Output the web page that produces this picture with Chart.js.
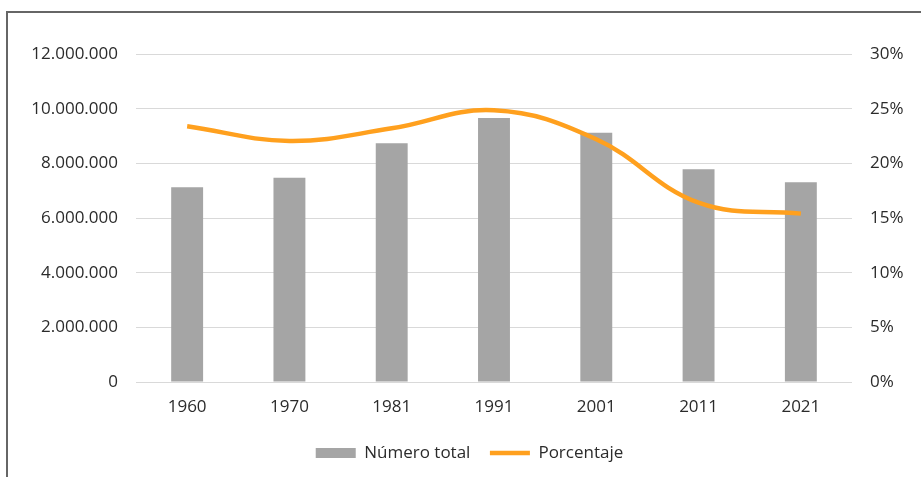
<!DOCTYPE html>
<html>
<head>
<meta charset="utf-8">
<script src="https://cdn.jsdelivr.net/npm/chart.js@4"></script>
<style>
  html, body { margin: 0; padding: 0; background: #ffffff; overflow: hidden; }
  #wrap { position: relative; width: 921px; height: 477px; }
  #frame { position: absolute; left: 6px; top: 11px; width: 2000px; height: 2000px;
           border-left: 2px solid #666666; border-top: 2px solid #666666; pointer-events: none; }
  canvas { position: absolute; left: 0; top: 0; }
</style>
</head>
<body>
<div id="wrap">
  <canvas id="c" width="921" height="477"></canvas>
  <div id="frame"></div>
</div>
<script>
const categories = ['1960', '1970', '1981', '1991', '2001', '2011', '2021'];
const totalLabel = 'Número total';
const totalValues = [7123000, 7474000, 8733000, 9659000, 9121000, 7782000, 7306000];
const pctLabel = 'Porcentaje';
const pctValues = [23.4, 22.05, 23.2, 24.85, 22.2, 16.4, 15.4];
const leftTicks = [0, 2000000, 4000000, 6000000, 8000000, 10000000, 12000000];
const rightTicks = [0, 5, 10, 15, 20, 25, 30];

const FONT = "'Open Sans', sans-serif";
const TXT = '#2b2b2b';
const LEGEND_SHIFT = 9;

function fmtThousands(v) {
  return String(Math.round(v)).replace(/\B(?=(\d{3})+(?!\d))/g, '.');
}

const legendShift = {
  id: 'legendShift',
  afterLayout(chart) {
    const lg = chart.legend;
    if (lg) { lg.left += LEGEND_SHIFT; lg.right += LEGEND_SHIFT; }
  }
};

new Chart(document.getElementById('c'), {
  data: {
    labels: categories,
    datasets: [
      {
        type: 'line',
        label: pctLabel,
        data: pctValues,
        yAxisID: 'yR',
        borderColor: 'rgb(255,160,30)',
        backgroundColor: 'rgb(255,160,30)',
        borderWidth: 4.5,
        pointRadius: 0,
        tension: 0.4,
        fill: false,
        order: 0,
        pointStyle: 'line'
      },
      {
        type: 'bar',
        label: totalLabel,
        data: totalValues,
        yAxisID: 'yL',
        backgroundColor: '#A5A5A5',
        borderWidth: 0,
        barPercentage: 0.312,
        categoryPercentage: 1,
        order: 1,
        pointStyle: 'rect'
      }
    ]
  },
  plugins: [legendShift],
  options: {
    responsive: false,
    animation: false,
    layout: { padding: { top: 54, bottom: 12, left: 0, right: 0 } },
    plugins: {
      tooltip: { enabled: false },
      legend: {
        position: 'bottom',
        maxHeight: 40,
        reverse: true,
        labels: {
          usePointStyle: true,
          pointStyleWidth: 40,
          boxHeight: 10,
          padding: 19.5,
          color: TXT,
          font: { family: FONT, size: 17 }
        }
      }
    },
    scales: {
      x: {
        offset: true,
        grid: { display: false, drawTicks: false },
        border: { display: false },
        ticks: { color: TXT, font: { family: FONT, size: 17 }, padding: 15, maxRotation: 0 },
        afterFit(s) { s.height = 43; }
      },
      yL: {
        position: 'left',
        min: 0, max: 12000000,
        afterBuildTicks(s) { s.ticks = leftTicks.map(v => ({ value: v })); },
        grid: { color: '#D9D9D9', lineWidth: 1, drawTicks: false },
        border: { display: false },
        ticks: { color: TXT, font: { family: FONT, size: 17 }, padding: 18,
                 callback: v => fmtThousands(v) },
        afterFit(s) { s.width = 136; }
      },
      yR: {
        position: 'right',
        min: 0, max: 30,
        afterBuildTicks(s) { s.ticks = rightTicks.map(v => ({ value: v })); },
        grid: { display: false, drawTicks: false },
        border: { display: false },
        ticks: { color: TXT, font: { family: FONT, size: 17 }, padding: 18,
                 callback: v => v + '%' },
        afterFit(s) { s.width = 69; }
      }
    }
  }
});
</script>
</body>
</html>
